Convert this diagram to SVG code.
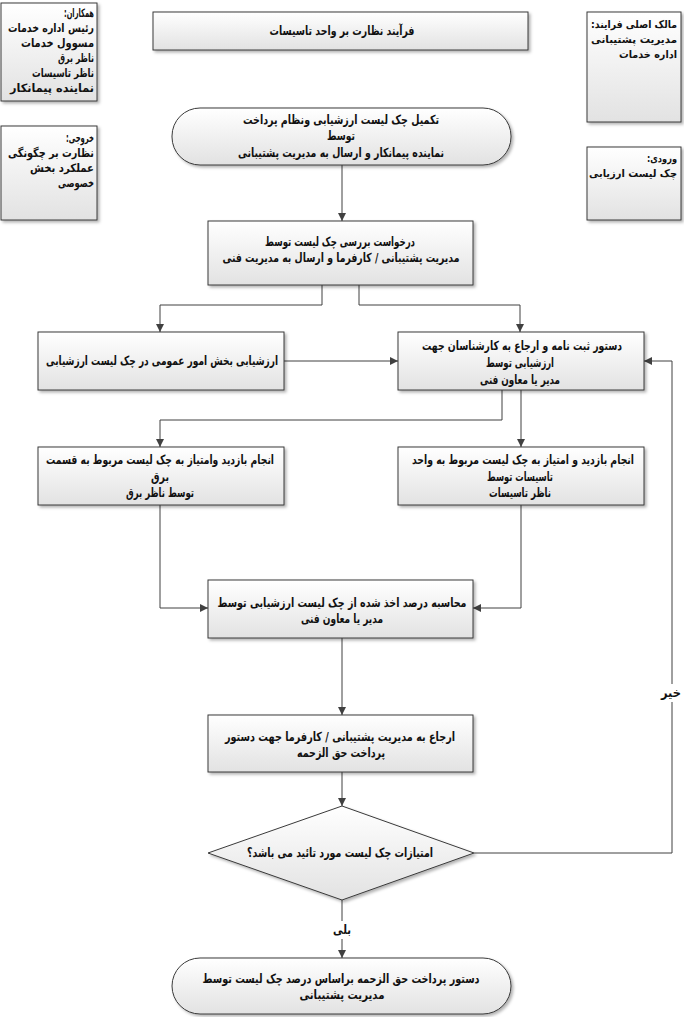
<svg xmlns="http://www.w3.org/2000/svg" width="684" height="1017" viewBox="0 0 684 1017">
<defs>
<linearGradient id="g" x1="0" y1="0" x2="0" y2="1">
<stop offset="0" stop-color="#ffffff"/>
<stop offset="1" stop-color="#e2e2e2"/>
</linearGradient>
<filter id="sh" x="-10%" y="-10%" width="130%" height="140%">
<feDropShadow dx="2" dy="2" stdDeviation="1.5" flood-color="#000" flood-opacity="0.3"/>
</filter>
<marker id="ah" markerWidth="8" markerHeight="8" refX="8" refY="4" orient="auto" markerUnits="userSpaceOnUse">
<path d="M0,0 L8,4 L0,8 Z" fill="#404040"/>
</marker>
<style>
.box{fill:url(#g);stroke:#3a3a3a;stroke-width:1;filter:url(#sh)}
.t{font-family:"DejaVu Sans",sans-serif;font-size:12.5px;font-weight:bold;fill:#111;direction:rtl;unicode-bidi:embed}
.s{font-size:11.5px}
.s2{font-size:10.5px}
.c{text-anchor:middle}
.ln{fill:none;stroke:#404040;stroke-width:1}
.arr{marker-end:url(#ah)}
</style>
</defs>
<rect width="684" height="1017" fill="#ffffff"/>

<g id="info-collaborators">
<rect class="box" x="1" y="3" width="96" height="98"/>
<text class="t s c" direction="rtl" x="79" y="17" textLength="30" lengthAdjust="spacingAndGlyphs">همکاران:&#x200F;</text>
<text class="t s c" direction="rtl" x="51" y="32" textLength="86" lengthAdjust="spacingAndGlyphs">رئیس اداره خدمات</text>
<text class="t s c" direction="rtl" x="57.5" y="47" textLength="73" lengthAdjust="spacingAndGlyphs">مسوول خدمات</text>
<text class="t s c" direction="rtl" x="76" y="62" textLength="36" lengthAdjust="spacingAndGlyphs">ناظر برق</text>
<text class="t s c" direction="rtl" x="63" y="77" textLength="62" lengthAdjust="spacingAndGlyphs">ناظر تاسیسات</text>
<text class="t s c" direction="rtl" x="52" y="92" textLength="84" lengthAdjust="spacingAndGlyphs">نماینده پیمانکار</text>
</g>

<g id="info-output">
<rect class="box" x="1" y="126" width="96" height="94"/>
<text class="t s c" direction="rtl" x="80" y="142" textLength="28" lengthAdjust="spacingAndGlyphs">خروجی:&#x200F;</text>
<text class="t s c" direction="rtl" x="51" y="157" textLength="86" lengthAdjust="spacingAndGlyphs">نظارت بر چگونگی</text>
<text class="t s c" direction="rtl" x="62" y="172" textLength="64" lengthAdjust="spacingAndGlyphs">عملکرد بخش</text>
<text class="t s c" direction="rtl" x="76" y="187" textLength="36" lengthAdjust="spacingAndGlyphs">خصوصی</text>
</g>

<g id="info-owner">
<rect class="box" x="587" y="12" width="94" height="110"/>
<text class="t s2 c" direction="rtl" x="634" y="28" textLength="86" lengthAdjust="spacingAndGlyphs">مالک اصلی فرایند:&#x200F;</text>
<text class="t s2 c" direction="rtl" x="634" y="43" textLength="86" lengthAdjust="spacingAndGlyphs">مدیریت پشتیبانی</text>
<text class="t s2 c" direction="rtl" x="648" y="58" textLength="58" lengthAdjust="spacingAndGlyphs">اداره خدمات</text>
</g>

<g id="info-input">
<rect class="box" x="587" y="147" width="94" height="73"/>
<text class="t s2 c" direction="rtl" x="662" y="162" textLength="30" lengthAdjust="spacingAndGlyphs">ورودی:&#x200F;</text>
<text class="t s2 c" direction="rtl" x="633" y="177" textLength="88" lengthAdjust="spacingAndGlyphs">چک لیست ارزیابی</text>
</g>

<g id="title">
<rect class="box" x="153" y="12" width="375" height="38"/>
<text class="t c" direction="rtl" x="342" y="35" textLength="145" lengthAdjust="spacingAndGlyphs">فرآیند نظارت بر واحد تاسیسات</text>
</g>

<g id="connectors">
<path class="ln arr" d="M342,165 L342,221"/>
<path class="ln arr" d="M322,285 L322,305 L160,305 L160,332"/>
<path class="ln arr" d="M359,285 L359,305 L520,305 L520,332"/>
<path class="ln arr" d="M284,361 L398,361"/>
<path class="ln arr" d="M502,390 L502,420 L160,420 L160,447"/>
<path class="ln arr" d="M521,390 L521,447"/>
<path class="ln arr" d="M160,505 L160,608 L208,608"/>
<path class="ln arr" d="M521,505 L521,608 L473,608"/>
<path class="ln arr" d="M342,638 L342,715"/>
<path class="ln arr" d="M342,772 L342,806"/>
<path class="ln arr" d="M474,853 L672,853 L672,361 L644,361"/>
<path class="ln arr" d="M342,900 L342,958"/>
<rect x="660" y="684" width="24" height="18" fill="#ffffff"/>
<text class="t c" direction="rtl" x="671" y="697" textLength="20" lengthAdjust="spacingAndGlyphs">خیر</text>
<rect x="330" y="921" width="24" height="18" fill="#ffffff"/>
<text class="t c" direction="rtl" x="342" y="934" textLength="18" lengthAdjust="spacingAndGlyphs">بلی</text>
</g>

<g id="n-start">
<rect class="box" x="172" y="108" width="339" height="57" rx="28" ry="28"/>
<text class="t c" direction="rtl" x="341" y="124" textLength="196" lengthAdjust="spacingAndGlyphs">تکمیل چک لیست ارزشیابی ونظام پرداخت</text>
<text class="t c" direction="rtl" x="341" y="140" textLength="28" lengthAdjust="spacingAndGlyphs">توسط</text>
<text class="t c" direction="rtl" x="341" y="157" textLength="206" lengthAdjust="spacingAndGlyphs">نماینده پیمانکار و ارسال به مدیریت پشتیبانی</text>
</g>

<g id="n-request">
<rect class="box" x="208" y="221" width="265" height="64"/>
<text class="t c" direction="rtl" x="340" y="246" textLength="150" lengthAdjust="spacingAndGlyphs">درخواست بررسی چک لیست توسط</text>
<text class="t c" direction="rtl" x="341" y="262" textLength="237" lengthAdjust="spacingAndGlyphs">مدیریت پشتیبانی / کارفرما  و ارسال به مدیریت فنی</text>
</g>

<g id="n-general">
<rect class="box" x="38" y="332" width="246" height="58"/>
<text class="t c" direction="rtl" x="162" y="365" textLength="232" lengthAdjust="spacingAndGlyphs">ارزشیابی بخش امور عمومی در چک لیست ارزشیابی</text>
</g>

<g id="n-order">
<rect class="box" x="398" y="332" width="246" height="58"/>
<text class="t c" direction="rtl" x="522" y="350" textLength="200" lengthAdjust="spacingAndGlyphs">دستور ثبت نامه و ارجاع به کارشناسان جهت</text>
<text class="t c" direction="rtl" x="520" y="367" textLength="68" lengthAdjust="spacingAndGlyphs">ارزشیابی توسط</text>
<text class="t c" direction="rtl" x="520" y="384" textLength="80" lengthAdjust="spacingAndGlyphs">مدیر یا معاون فنی</text>
</g>

<g id="n-electric">
<rect class="box" x="38" y="447" width="246" height="58"/>
<text class="t c" direction="rtl" x="160" y="464" textLength="228" lengthAdjust="spacingAndGlyphs">انجام بازدید وامتیاز به چک لیست مربوط  به قسمت</text>
<text class="t c" direction="rtl" x="160" y="481" textLength="18" lengthAdjust="spacingAndGlyphs">برق</text>
<text class="t c" direction="rtl" x="160" y="497" textLength="68" lengthAdjust="spacingAndGlyphs">توسط ناظر برق</text>
</g>

<g id="n-facilities">
<rect class="box" x="398" y="447" width="246" height="58"/>
<text class="t c" direction="rtl" x="523" y="464" textLength="222" lengthAdjust="spacingAndGlyphs">انجام بازدید و امتیاز به چک لیست مربوط به واحد</text>
<text class="t c" direction="rtl" x="520" y="481" textLength="66" lengthAdjust="spacingAndGlyphs">تاسیسات توسط</text>
<text class="t c" direction="rtl" x="520" y="497" textLength="62" lengthAdjust="spacingAndGlyphs">ناظر تاسیسات</text>
</g>

<g id="n-calc">
<rect class="box" x="208" y="580" width="265" height="58"/>
<text class="t c" direction="rtl" x="342" y="607" textLength="249" lengthAdjust="spacingAndGlyphs">محاسبه درصد اخذ شده از  چک لیست ارزشیابی توسط</text>
<text class="t c" direction="rtl" x="342" y="623" textLength="82" lengthAdjust="spacingAndGlyphs">مدیر یا معاون فنی</text>
</g>

<g id="n-refer">
<rect class="box" x="208" y="715" width="265" height="57"/>
<text class="t c" direction="rtl" x="340" y="741" textLength="230" lengthAdjust="spacingAndGlyphs">ارجاع به مدیریت پشتیبانی / کارفرما جهت دستور</text>
<text class="t c" direction="rtl" x="341" y="757" textLength="88" lengthAdjust="spacingAndGlyphs">پرداخت حق الزحمه</text>
</g>

<g id="n-decision">
<polygon class="box" points="342,806 474,853 342,900 208,853"/>
<text class="t c" direction="rtl" x="340" y="857" textLength="186" lengthAdjust="spacingAndGlyphs">امتیازات چک لیست مورد تائید می باشد؟</text>
</g>

<g id="n-end">
<rect class="box" x="172" y="958" width="339" height="56" rx="28" ry="28"/>
<text class="t c" direction="rtl" x="341" y="983" textLength="277" lengthAdjust="spacingAndGlyphs">دستور پرداخت حق الزحمه براساس درصد چک لیست توسط</text>
<text class="t c" direction="rtl" x="342" y="999" textLength="85" lengthAdjust="spacingAndGlyphs">مدیریت پشتیبانی</text>
</g>
</svg>
